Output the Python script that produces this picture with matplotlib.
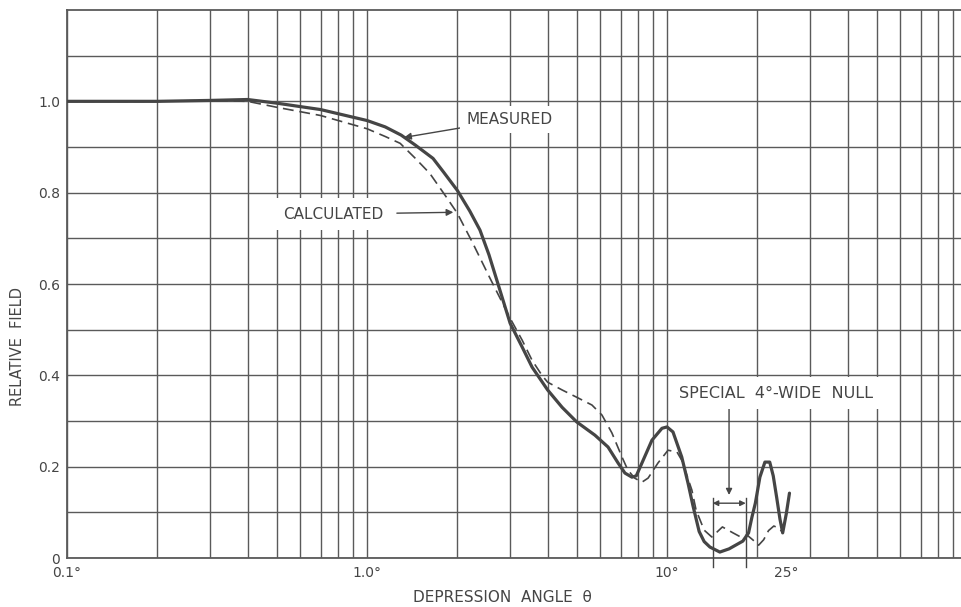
import numpy as np
import matplotlib
matplotlib.use('Agg')
import matplotlib.pyplot as plt
from matplotlib.ticker import FixedLocator, LogLocator, NullFormatter

# Measured field pattern (solid)
measured_angle = [0.1, 0.2, 0.3, 0.4, 0.5, 0.7, 1.0, 1.15, 1.3, 1.45, 1.66, 1.8,
                  2.0, 2.2, 2.38, 2.55, 2.71, 3.0, 3.29, 3.55, 4.0, 4.47, 5.0, 5.75,
                  6.36, 6.87, 7.24, 7.64, 7.9, 8.25, 8.91, 9.62, 10.0, 10.47,
                  11.2, 11.75, 12.2, 12.8, 13.3, 13.9, 15.0, 16.1, 17.9, 18.7,
                  19.2, 19.7, 20.4, 21.2, 22.0, 22.6, 23.2, 23.8, 24.3, 25.0, 25.6]
measured_field = [1.0, 1.0, 1.002, 1.004, 0.996, 0.982, 0.958, 0.944, 0.926, 0.904,
                  0.875, 0.845, 0.805, 0.760, 0.718, 0.664, 0.608, 0.514, 0.462,
                  0.418, 0.368, 0.330, 0.298, 0.269, 0.243, 0.208, 0.186, 0.177,
                  0.180, 0.208, 0.258, 0.284, 0.287, 0.276, 0.221, 0.164, 0.115,
                  0.058, 0.036, 0.024, 0.013, 0.020, 0.037, 0.055, 0.090, 0.120,
                  0.177, 0.210, 0.210, 0.180, 0.133, 0.085, 0.055, 0.098, 0.142]

# Calculated field pattern (dashed)
calc_angle = [0.1, 0.2, 0.3, 0.4, 0.5, 0.7, 1.0, 1.15, 1.29, 1.45, 1.62, 1.84,
              2.0, 2.25, 2.56, 3.0, 3.29, 3.55, 3.83, 4.0, 4.47, 5.0, 5.62, 6.07,
              6.55, 7.08, 7.4, 7.8, 8.25, 8.65, 9.33, 10.08, 10.8, 11.2, 12.1,
              12.5, 13.3, 14.1, 15.3, 16.6, 17.6, 18.5, 19.3, 20.2, 21.0, 21.8,
              22.7, 23.7, 24.3]
calc_field = [1.0, 1.0, 1.002, 1.0, 0.987, 0.969, 0.940, 0.923, 0.908, 0.875,
              0.842, 0.790, 0.755, 0.690, 0.615, 0.525, 0.477, 0.433, 0.400,
              0.385, 0.368, 0.352, 0.335, 0.313, 0.274, 0.221, 0.193, 0.175,
              0.166, 0.175, 0.208, 0.236, 0.232, 0.214, 0.149, 0.105, 0.061,
              0.046, 0.068, 0.055, 0.046, 0.050, 0.040, 0.028, 0.040, 0.060,
              0.070, 0.065, 0.055]

x_ticks = [0.1, 1.0, 10, 25]
x_labels = ['0.1°', '1.0°', '10°', '25°']
y_ticks = [0, 0.2, 0.4, 0.6, 0.8, 1.0]
y_labels = ['0', '0.2', '0.4', '0.6', '0.8', '1.0']

ink = '#454545'
gridc = '#5a5a5a'

plt.rcParams['font.family'] = ['DejaVu Sans']

fig = plt.figure(figsize=(9.61, 6.07), dpi=100)
ax = fig.add_axes([67 / 961, 1 - 558 / 607, 1 - 67 / 961, 548 / 607])

ax.plot(measured_angle, measured_field, color=ink, lw=2.3,
        solid_joinstyle='round', solid_capstyle='round', zorder=4)
ax.plot(calc_angle, calc_field, color=ink, lw=1.2, dashes=(6.5, 3.5), zorder=4)

ax.set_xscale('log')
ax.set_xlim(0.1, 95.5)
ax.set_ylim(0, 1.2)

# grid: every log subdivision, every 0.1 in field
ax.xaxis.set_major_locator(FixedLocator(x_ticks))
ax.set_xticklabels(x_labels)
ax.xaxis.set_minor_locator(LogLocator(base=10, subs=np.arange(1, 10)))
ax.xaxis.set_minor_formatter(NullFormatter())
ax.set_yticks(y_ticks)
ax.set_yticklabels(y_labels)
ax.set_yticks(np.arange(0.1, 1.2, 0.2), minor=True)
ax.grid(which='both', color=gridc, lw=1.0)
for t in ax.xaxis.get_major_ticks():
    if t.get_loc() == 25:
        t.gridline.set_visible(False)

ax.tick_params(which='both', length=0, colors=ink, labelsize=10)
ax.tick_params(axis='x', pad=6)
ax.tick_params(axis='y', pad=5)
for side in ['left', 'bottom', 'top']:
    ax.spines[side].set_color(gridc)
    ax.spines[side].set_linewidth(1.3)
ax.spines['right'].set_visible(False)

box = dict(facecolor='white', edgecolor='none', pad=6)

# labels with leader arrows
ax.annotate('MEASURED', xy=(1.33, 0.921), xytext=(2.15, 0.960),
            fontsize=11, color=ink, va='center', ha='left',
            bbox=dict(facecolor='white', edgecolor='none', pad=4.5),
            arrowprops=dict(arrowstyle='-|>', color=ink, lw=1.0,
                            mutation_scale=10, shrinkA=0, shrinkB=0))
ax.annotate('CALCULATED', xy=(1.94, 0.757), xytext=(1.13, 0.753),
            fontsize=11, color=ink, va='center', ha='right', bbox=box,
            arrowprops=dict(arrowstyle='-|>', color=ink, lw=1.0,
                            mutation_scale=10, shrinkA=4, shrinkB=0))
ax.text(10.96, 0.361, 'SPECIAL  4°-WIDE  NULL', fontsize=11.5, color=ink,
        va='center', ha='left', bbox=box, zorder=5)
ax.annotate('', xy=(16.1, 0.138), xytext=(16.1, 0.335),
            arrowprops=dict(arrowstyle='-|>', color=ink, lw=1.0,
                            mutation_scale=9, shrinkA=0, shrinkB=0))

# bracket marking the 4 degree null
for xb in [14.2, 18.3]:
    ax.plot([xb, xb], [-0.02, 0.131], color=ink, lw=1.0, clip_on=False, zorder=3)
ax.annotate('', xy=(14.2, 0.12), xytext=(18.3, 0.12),
            arrowprops=dict(arrowstyle='<|-|>', color=ink, lw=1.0,
                            mutation_scale=8, shrinkA=0, shrinkB=0))

fig.text(18 / 961, 1 - 346 / 607, 'RELATIVE  FIELD', rotation=90, fontsize=10.5,
         color=ink, ha='center', va='center')
fig.text(502 / 961, 1 - 598 / 607, 'DEPRESSION  ANGLE  θ', fontsize=11,
         color=ink, ha='center', va='center')

fig.savefig('out.png', dpi=100, facecolor='white')
